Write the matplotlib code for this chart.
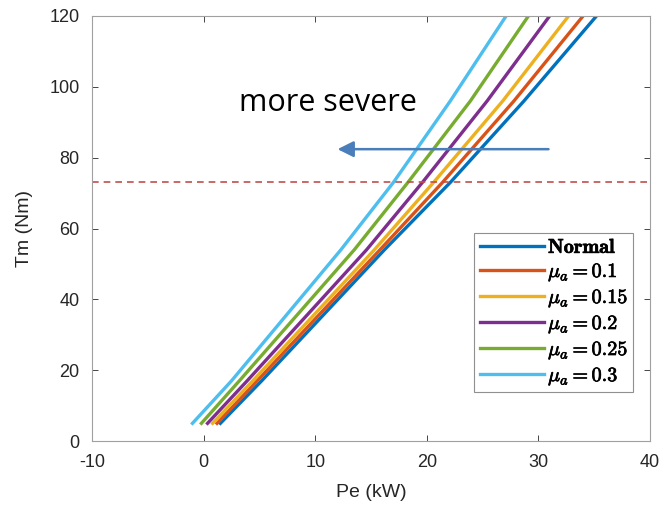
import numpy as np
import matplotlib
matplotlib.use('Agg')
import matplotlib.pyplot as plt
import matplotlib.patheffects as pe_fx

# torque points (Nm) and electrical power (kW)
tm = [5, 17, 54, 73, 96, 120]
pe_normal = [1.5, 5.2, 16.2, 22.1, 28.7, 35.2]
pe_010 = [1.2, 4.8, 15.8, 21.4, 27.8, 34.0]
pe_015 = [0.8, 4.4, 15.3, 20.6, 26.8, 32.7]
pe_020 = [0.35, 3.9, 14.6, 19.6, 25.4, 31.0]
pe_025 = [-0.2, 3.2, 13.5, 18.3, 23.9, 29.1]
pe_030 = [-1.0, 2.5, 12.3, 17.0, 22.1, 27.1]

labels = [r'$\mathbf{Normal}$', r'$\mu_a = \mathbf{0.1}$', r'$\mu_a = \mathbf{0.15}$',
          r'$\mu_a = \mathbf{0.2}$', r'$\mu_a = \mathbf{0.25}$', r'$\mu_a = \mathbf{0.3}$']
colors = ['#0072BD', '#D95319', '#EDB120', '#7E2F8E', '#77AC30', '#4DBEEE']
series = [pe_normal, pe_010, pe_015, pe_020, pe_025, pe_030]

limit_tm = 73

plt.rcParams['mathtext.fontset'] = 'cm'
plt.rcParams['font.family'] = 'Liberation Sans'
plt.rcParams['axes.unicode_minus'] = False

fig = plt.figure(figsize=(6.64, 5.16), dpi=100)
ax = fig.add_axes([0.1386, 0.1453, 0.979 - 0.1386, 0.969 - 0.1453])

for pe, c, lab in zip(series, colors, labels):
    ax.plot(pe, tm, color=c, linewidth=2.4, label=lab, solid_joinstyle='round')

ax.axhline(limit_tm, color='#c0504d', linestyle=(0, (4, 3)), linewidth=1.2)

ax.annotate('', xy=(12.0, 82.4), xytext=(30.9, 82.4),
            arrowprops=dict(arrowstyle='-|>', color='#4a7ebb', lw=1.8,
                            mutation_scale=24, shrinkA=0, shrinkB=0))
ax.text(11.1, 95.5, 'more severe', fontsize=22, family='Open Sans',
        ha='center', va='center', color='black')

ax.set_xlim(-10, 40)
ax.set_ylim(0, 120)
ax.set_xticks([-10, 0, 10, 20, 30, 40])
ax.set_yticks([0, 20, 40, 60, 80, 100, 120])
ax.tick_params(direction='in', top=True, right=True, labelsize=13,
               colors='#262626', length=4, width=0.6, pad=9)
for sp in ax.spines.values():
    sp.set_color('#a0a0a0')
    sp.set_linewidth(0.8)
ax.set_xlabel('Pe (kW)', fontsize=14, color='#262626', labelpad=10)
ax.set_ylabel('Tm (Nm)', fontsize=14, color='#262626', labelpad=12)

leg = ax.legend(loc='lower right', bbox_to_anchor=(0.97, 0.115), fontsize=14.5,
                handlelength=3.2, handletextpad=0.2, borderpad=0.25,
                labelspacing=0.2, fancybox=False, framealpha=1, borderaxespad=0)
leg.get_frame().set_edgecolor('#909090')
leg.get_frame().set_linewidth(0.8)
for t in leg.get_texts():
    t.set_path_effects([pe_fx.withStroke(linewidth=0.5, foreground='black')])

fig.savefig('out.png', dpi=100)
